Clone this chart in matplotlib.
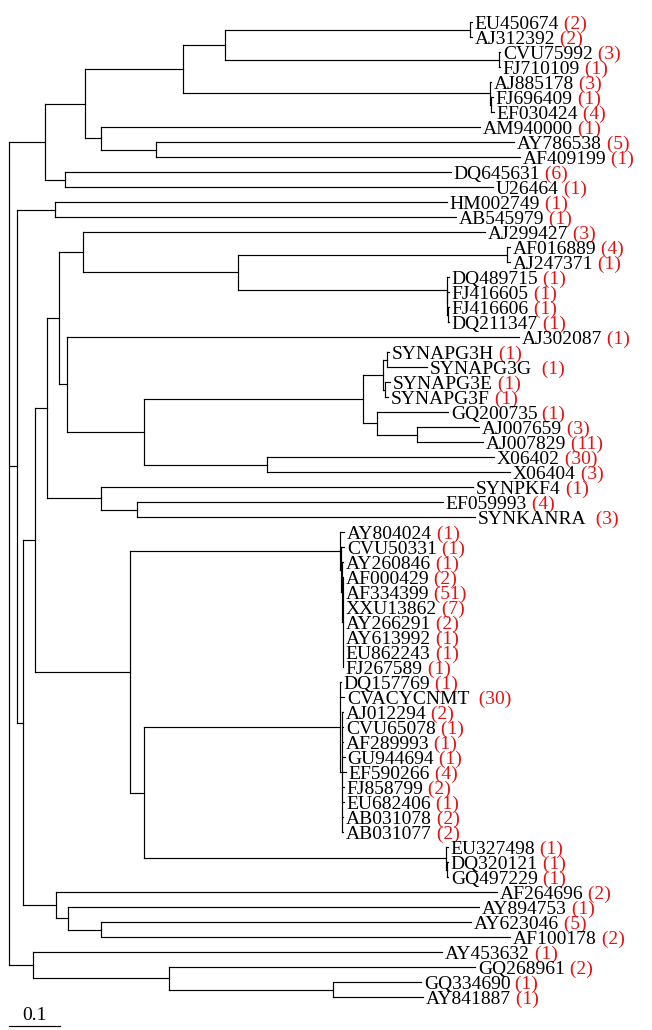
import matplotlib
matplotlib.use('Agg')
import matplotlib.pyplot as plt
from matplotlib.collections import LineCollection

# ---------------- data ----------------
leaf_names = ["EU450674", "AJ312392", "CVU75992", "FJ710109", "AJ885178", "FJ696409",
              "EF030424", "AM940000", "AY786538", "AF409199", "DQ645631", "U26464",
              "HM002749", "AB545979", "AJ299427", "AF016889", "AJ247371", "DQ489715",
              "FJ416605", "FJ416606", "DQ211347", "AJ302087", "SYNAPG3H", "SYNAPG3G",
              "SYNAPG3E", "SYNAPG3F", "GQ200735", "AJ007659", "AJ007829", "X06402",
              "X06404", "SYNPKF4", "EF059993", "SYNKANRA", "AY804024", "CVU50331",
              "AY260846", "AF000429", "AF334399", "XXU13862", "AY266291", "AY613992",
              "EU862243", "FJ267589", "DQ157769", "CVACYCNMT", "AJ012294", "CVU65078",
              "AF289993", "GU944694", "EF590266", "FJ858799", "EU682406", "AB031078",
              "AB031077", "EU327498", "DQ320121", "GQ497229", "AF264696", "AY894753",
              "AY623046", "AF100178", "AY453632", "GQ268961", "GQ334690", "AY841887"]
leaf_counts = [2, 2, 3, 1, 3, 1, 4, 1, 5, 1, 6, 1,
               1, 1, 3, 4, 1, 1, 1, 1, 1, 1, 1, 1,
               1, 1, 1, 3, 11, 30, 3, 1, 4, 3, 1, 1,
               1, 2, 51, 7, 2, 1, 1, 1, 1, 30, 2, 1,
               1, 1, 4, 2, 1, 2, 2, 1, 1, 1, 2, 1,
               5, 2, 1, 2, 1, 1]
wide_gap = ["CVACYCNMT", "SYNKANRA", "SYNAPG3G"]

# subtrees (Newick, branch lengths in substitutions/site)
clade_F = "((EU450674:0.0039,AJ312392:0.0039):0.4804,(CVU75992:0.0020,FJ710109:0.0020):0.5373):0.0824"
clade_D = "(" + clade_F + ",(AJ885178:0.0020,(FJ696409:0.0039,EF030424:0.0059):0.0020):0.6020):0.1929"
clade_E = "(AM940000:0.7431,(AY786538:0.7020,AF409199:0.7137):0.1078):0.0322"
clade_A = "((" + clade_D + "," + clade_E + "):0.0784,(DQ645631:0.7561,U26464:0.8384):0.0408):0.0692"

clade_N7 = ("(AJ299427:0.7888,((AF016889:0.0059,AJ247371:0.0059):0.5275,"
            "(DQ489715:0.0039,(FJ416605:0.0029,(FJ416606:0.0020,DQ211347:0.0020):0.0010):0.0010):0.4098):0.3045):0.0459")
clade_N9 = ("(AJ302087:0.8869,((((SYNAPG3H:0.0039,SYNAPG3G:0.0784):0.0078,(SYNAPG3E:0.0098,SYNAPG3F:0.0059):0.0039):0.0392,"
            "(GQ200735:0.1392,(AJ007659:0.1216,AJ007829:0.1294):0.0784):0.0275):0.4294,"
            "(X06402:0.4451,X06404:0.4765):0.2412):0.1516):0.0145")
clade_K = "(SYNPKF4:0.7294,(EF059993:0.6000,SYNKANRA:0.6627):0.0706):0.1065"
clade_N5 = "((" + clade_N7 + "," + clade_N9 + "):0.0247," + clade_K + "):0.0229"
clade_M1 = ("(AY804024:0.0078,(CVU50331:0.0059,(AY260846:0.0020,(AF000429:0.0010,AF334399:0.0010,"
            "XXU13862:0.0010,AY266291:0.0010,AY613992:0.0010,EU862243:0.0010,FJ267589:0.0005):0.0010):0.0020):0.0020):0.4118")
clade_R = ("(DQ157769:0.0020,CVACYCNMT:0.0078,(AJ012294:0.0030,CVU65078:0.0030,AF289993:0.0030,GU944694:0.0060,"
           "EF590266:0.0080,FJ858799:0.0040,EU682406:0.0040,AB031078:0.0030,AB031077:0.0030):0.0030):0.3843")
clade_T = "(EU327498:0.0039,(DQ320121:0.0029,GQ497229:0.0029):0.0010):0.5922"
clade_N13 = "(" + clade_M1 + ",(" + clade_R + "," + clade_T + "):0.0275):0.1863"
clade_N15 = "(AF264696:0.8647,(AY894753:0.8065,(AY623046:0.7255,AF100178:0.8020):0.0653):0.0229):0.0641"
clade_N2 = ("((HM002749:0.7686,AB545979:0.7863):0.0739,((" + clade_N5 + "," + clade_N13 + "):0.0229,"
            + clade_N15 + "):0.0118):0.0157")
clade_N17 = "(AY453632:0.8020,(GQ268961:0.6000,(GQ334690:0.1735,AY841887:0.1775):0.3206):0.2667):0.0465"
newick = "(" + clade_A + "," + clade_N2 + "," + clade_N17 + ");"
scale_bar_length = 0.1


# ---------------- parse ----------------
def parse_newick(s):
    pos = 0

    def node():
        nonlocal pos
        children = []
        if s[pos] == '(':
            pos += 1
            while True:
                children.append(node())
                if s[pos] == ',':
                    pos += 1
                    continue
                if s[pos] == ')':
                    pos += 1
                    break
        start = pos
        while pos < len(s) and s[pos] not in ',();':
            pos += 1
        tok = s[start:pos]
        name, length = tok, 0.0
        if ':' in tok:
            name, l = tok.split(':')
            length = float(l)
        return {"name": name, "len": length, "children": children}

    return node()


tree = parse_newick(newick)
leaf_index = {n: i for i, n in enumerate(leaf_names)}
count_of = dict(zip(leaf_names, leaf_counts))

segments = []
leaves = []


def layout(nd, x_parent, is_root=False):
    x = x_parent + nd["len"]
    nd["x"] = x
    if not nd["children"]:
        nd["y"] = leaf_index[nd["name"]]
        leaves.append(nd)
    else:
        for c in nd["children"]:
            layout(c, x)
        ys = [c["y"] for c in nd["children"]]
        nd["y"] = (ys[0] + ys[-1]) / 2.0
        segments.append([(x, ys[0]), (x, ys[-1])])
        for c in nd["children"]:
            segments.append([(x, c["y"]), (c["x"], c["y"])])


layout(tree, 0.0, True)

# ---------------- draw ----------------
W, H = 652, 1030
PX_PER_UNIT = 510.0
ROOT_PX = 9.3
TOP_PX, STEP_PX = 22.0, 15.0

fig = plt.figure(figsize=(W / 100, H / 100), dpi=100)
ax = fig.add_axes([0, 0, 1, 1])
ax.set_xlim(-ROOT_PX / PX_PER_UNIT, (W - ROOT_PX) / PX_PER_UNIT)
ax.set_ylim((H - TOP_PX) / STEP_PX, -TOP_PX / STEP_PX)
ax.axis('off')

ax.add_collection(LineCollection(segments, colors='black', linewidths=0.85, capstyle='projecting'))

font = dict(family='Liberation Serif', fontsize=14)
for lf in leaves:
    t = ax.annotate(lf["name"], xy=(lf["x"], lf["y"]), xytext=(2.0, -4.8),
                    textcoords='offset points', ha='left', va='baseline',
                    color='black', **font)
    gap = '  ' if lf["name"] in wide_gap else ' '
    ax.annotate(gap + '(' + str(count_of[lf["name"]]) + ')', xy=(1, 0), xycoords=t,
                ha='left', va='bottom', color='#e01515', **font)

# scale bar
sb_y = (1026 - TOP_PX) / STEP_PX
ax.plot([0, scale_bar_length], [sb_y, sb_y], color='black', lw=0.85)
ax.text(scale_bar_length / 2, (1020 - TOP_PX) / STEP_PX, '0.1', ha='center', va='baseline',
        color='black', **font)

fig.savefig('out.png', dpi=100)
